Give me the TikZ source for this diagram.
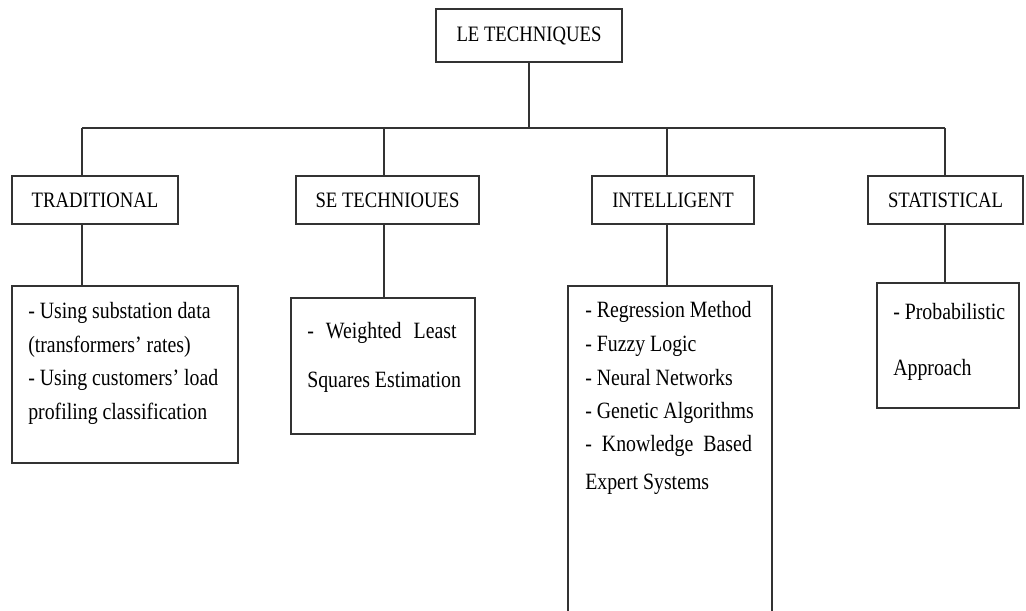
\documentclass[tikz,border=0pt]{standalone}
\usepackage{fontspec}
\setmainfont{Liberation Serif}
\newfontfamily\dfont{Liberation Serif}[FakeStretch=0.85]
\usetikzlibrary{fit}
\begin{document}
\begin{tikzpicture}[x=0.75pt,y=-0.75pt,
  box/.style={draw=black!80, line width=1.3pt, inner sep=0pt, fill=white},
  head/.style={font=\dfont\fontsize{16.5}{20}\selectfont, text=black},
  body/.style={font=\dfont\fontsize{17.5}{21}\selectfont, text=black, anchor=base west, inner sep=0pt},
  wire/.style={draw=black!80, line width=1.3pt}]
\useasboundingbox (0,0) rectangle (1026,611);
\fill[white] (0,0) rectangle (1026,611);

% level 1
\node[box, head, fit={(436,9) (622,62)}] (top) {};
\node[head] (toptxt) at (top.center) {LE TECHNIQUES};

% bus
\coordinate (j1) at (82,128);
\coordinate (j2) at (384,128);
\coordinate (j3) at (667,128);
\coordinate (j4) at (945,128);

% level 2
\node[box, fit={(12,176) (178,224)}] (trad2) {};
\node[head] (trad2txt) at (trad2.center) {TRADITIONAL};
\node[box, fit={(296,176) (479,224)}] (se2) {};
\node[head] (se2txt) at (se2.center) {SE TECHNIOUES};
\node[box, fit={(592,176) (754,224)}] (int2) {};
\node[head] (int2txt) at (int2.center) {INTELLIGENT};
\node[box, fit={(868,176) (1023,224)}] (stat2) {};
\node[head] (stat2txt) at (stat2.center) {STATISTICAL};

% level 3
\node[box, fit={(12,286) (238,463)}] (trad3) {};
\node[box, fit={(291,298) (475,434)}] (se3) {};
\node[inner sep=0pt, fit={(568,286) (772,611)}] (int3) {};
\node[box, fit={(877,283) (1019,408)}] (stat3) {};
\draw[wire] (int3.south west) -- (int3.north west) -- (int3.north east) -- (int3.south east);

% connectors
\draw[wire] (top.south) -- (top.south |- j1);
\draw[wire] (j1) -- (j4);
\draw[wire] (j1) -- (j1 |- trad2.north);
\draw[wire] (j2) -- (j2 |- se2.north);
\draw[wire] (j3) -- (j3 |- int2.north);
\draw[wire] (j4) -- (j4 |- stat2.north);
\draw[wire] (trad2.south -| j1) -- (trad3.north -| j1);
\draw[wire] (se2.south -| j2) -- (se3.north -| j2);
\draw[wire] (int2.south -| j3) -- (int3.north -| j3);
\draw[wire] (stat2.south -| j4) -- (stat3.north -| j4);

% body texts
\node[body] (ta) at (28,318) {- Using substation data};
\node[body] (tb) at (28,352) {(transformers’ rates)};
\node[body] (tc) at (28,385) {- Using customers’ load};
\node[body] (td) at (28,419) {profiling classification};

\node[body] (sa) at (307,338) {\makebox[112pt][s]{- \ Weighted \ Least}};
\node[body] (sb) at (307,387) {Squares Estimation};

\node[body] (ia) at (585,317) {- Regression Method};
\node[body] (ib) at (585,351) {- Fuzzy Logic};
\node[body] (ic) at (585,385) {- Neural Networks};
\node[body] (id) at (585,418) {- Genetic Algorithms};
\node[body] (ie) at (585,451) {\makebox[125pt][s]{- \ Knowledge \ Based}};
\node[body] (if) at (585,489) {Expert Systems};

\node[body] (pa) at (893,319) {- Probabilistic};
\node[body] (pb) at (893,375) {Approach};
\end{tikzpicture}
\end{document}
